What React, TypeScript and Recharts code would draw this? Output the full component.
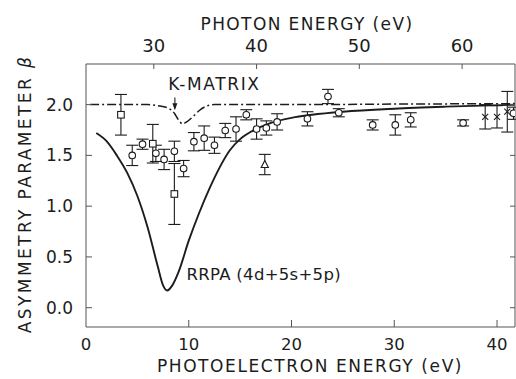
import React from "react";
import {
  ComposedChart,
  Line,
  Scatter,
  ErrorBar,
  XAxis,
  YAxis,
  Label,
  ReferenceDot,
  ReferenceLine,
} from "recharts";

// photoelectron energy ticks (bottom), photon energy ticks (top), beta ticks
const peTicks = [0, 10, 20, 30, 40];
const photonTicks = [30, 40, 50, 60];
const betaTicks = [0, 0.5, 1.0, 1.5, 2.0];

// photon energy = photoelectron energy + threshold
const threshold = 23.4;

// RRPA (4d+5s+5p) curve
const rrpaE = [1.0, 2.0, 3.0, 4.0, 5.0, 6.0, 7.0, 7.5, 7.9, 8.4, 9.0, 10.0, 11.0, 12.0, 13.0, 14.0, 15.0, 16.0, 17.0, 18.0, 20.0, 22.0, 25.0, 30.0, 35.0, 42.0];
const rrpaBeta = [1.72, 1.64, 1.5, 1.33, 1.1, 0.79, 0.4, 0.22, 0.17, 0.22, 0.35, 0.66, 0.93, 1.17, 1.38, 1.55, 1.66, 1.73, 1.78, 1.82, 1.87, 1.9, 1.93, 1.96, 1.98, 2.0];

// K-matrix curve
const kmatE = [0.4, 6.0, 7.0, 8.0, 8.6, 9.0, 9.4, 9.8, 10.4, 11.0, 11.6, 12.5, 20.0, 30.0, 42.0];
const kmatBeta = [2.0, 2.0, 1.99, 1.965, 1.915, 1.85, 1.81, 1.83, 1.88, 1.94, 1.98, 2.0, 2.0, 2.005, 2.01];

// measured points: [E, beta, error]
const circles = [
  [4.5, 1.5, 0.1], [5.5, 1.61, 0.05], [6.8, 1.52, 0.08], [7.6, 1.46, 0.1],
  [8.6, 1.54, 0.1], [9.5, 1.37, 0.08], [10.5, 1.635, 0.09], [11.5, 1.67, 0.12],
  [12.5, 1.6, 0.08], [13.55, 1.745, 0.07], [14.6, 1.76, 0.12], [15.6, 1.9, 0.05],
  [16.6, 1.76, 0.1], [17.55, 1.77, 0.07], [18.6, 1.83, 0.08], [21.55, 1.86, 0.07],
  [23.55, 2.08, 0.07], [24.6, 1.92, 0.04], [27.9, 1.8, 0.05], [30.1, 1.8, 0.1],
  [31.6, 1.85, 0.07], [36.7, 1.82, 0.03], [41.6, 1.915, 0.06],
];
const squares = [[3.4, 1.9, 0.2], [6.5, 1.615, 0.19], [8.6, 1.12, 0.3]];
const triangles = [[17.4, 1.41, 0.1]];
const crosses = [[38.85, 1.88, 0.12], [40.0, 1.88, 0.11], [41.0, 1.93, 0.2]];

const toCurve = (xs: number[], ys: number[]) => xs.map((x, i) => ({ x, y: ys[i] }));
const toPoints = (pts: number[][]) => pts.map(([x, y, e]) => ({ x, y, e }));

const rrpaData = toCurve(rrpaE, rrpaBeta);
const kmatData = toCurve(kmatE, kmatBeta);
// same curve on the photon-energy scale, only to bind the top axis
const rrpaPhoton = toCurve(rrpaE.map((e) => e + threshold), rrpaBeta);

const ink = "#1c1c1c";
const frame = "#555";
const font = "'DejaVu Sans', sans-serif";

const BottomTick = ({ x, y, payload }: any) => (
  <g>
    {payload.value !== 0 && <line x1={x} x2={x} y1={y} y2={y - 7} stroke={frame} />}
    <text x={x} y={y + 23} textAnchor="middle" fontSize={16.5} fontFamily={font} fill={ink}>
      {payload.value}
    </text>
  </g>
);

const TopTick = ({ x, y, payload }: any) => (
  <g>
    <line x1={x} x2={x} y1={y} y2={y + 5} stroke={frame} />
    <text x={x} y={y - 12} textAnchor="middle" fontSize={18} fontFamily={font} fill={ink}>
      {payload.value}
    </text>
  </g>
);

const LeftTick = ({ x, y, payload }: any) => (
  <g>
    <line x1={x} x2={x + 6} y1={y} y2={y} stroke={frame} />
    <text x={x - 13} y={y + 6} textAnchor="end" fontSize={17} fontFamily={font} fill={ink}>
      {payload.value.toFixed(1)}
    </text>
  </g>
);

const RightTick = ({ x, y }: any) => (
  <line x1={x} x2={x - 5} y1={y} y2={y} stroke={frame} />
);

const hollowCircle = (p: any) => (
  <circle cx={p.cx} cy={p.cy} r={3.3} fill="#fff" stroke={ink} strokeWidth={1.1} />
);
const hollowSquare = (p: any) => (
  <rect x={p.cx - 3.3} y={p.cy - 3.3} width={6.6} height={6.6} fill="#fff" stroke={ink} strokeWidth={1.1} />
);
const hollowTriangle = (p: any) => (
  <path d={`M${p.cx},${p.cy - 4} L${p.cx + 3.6},${p.cy + 3} L${p.cx - 3.6},${p.cy + 3} Z`} fill="#fff" stroke={ink} strokeWidth={1.1} />
);
const cross = (p: any) => (
  <path d={`M${p.cx - 3},${p.cy - 3} L${p.cx + 3},${p.cy + 3} M${p.cx + 3},${p.cy - 3} L${p.cx - 3},${p.cy + 3}`} stroke={ink} strokeWidth={1.1} />
);

const textStyle = { fontFamily: font, fill: ink };

export default function App() {
  return (
    <div style={{ position: "absolute", left: 0, top: 0, background: "#fff" }}>
      <ComposedChart width={516} height={379} margin={{ top: 0, right: 0, bottom: 0, left: 0 }}>
        <XAxis
          xAxisId="b"
          dataKey="x"
          type="number"
          domain={[0, 41.75]}
          allowDataOverflow
          ticks={peTicks}
          interval={0}
          height={52}
          tickSize={0}
          tickMargin={0}
          tickLine={false}
          axisLine={{ stroke: frame }}
          tick={<BottomTick />}
        >
          <Label
            content={() => (
              <text x={310} y={372} textAnchor="middle" fontSize={17} letterSpacing={1.6} {...textStyle}>
                PHOTOELECTRON ENERGY (eV)
              </text>
            )}
          />
        </XAxis>
        <XAxis
          xAxisId="t"
          dataKey="x"
          orientation="top"
          type="number"
          domain={[threshold, 41.75 + threshold]}
          allowDataOverflow
          ticks={photonTicks}
          interval={0}
          height={64}
          tickSize={0}
          tickMargin={0}
          tickLine={false}
          axisLine={{ stroke: frame }}
          tick={<TopTick />}
        >
          <Label
            content={() => (
              <text x={307} y={29.5} textAnchor="middle" fontSize={17} letterSpacing={1.4} {...textStyle}>
                PHOTON ENERGY (eV)
              </text>
            )}
          />
        </XAxis>
        <YAxis
          yAxisId="l"
          dataKey="y"
          type="number"
          domain={[-0.19, 2.4]}
          allowDataOverflow
          ticks={betaTicks}
          interval={0}
          width={86}
          tickSize={0}
          tickMargin={0}
          tickLine={false}
          axisLine={{ stroke: frame }}
          tick={<LeftTick />}
        >
          <Label
            content={() => (
              <text
                x={31}
                y={194}
                textAnchor="middle"
                fontSize={17}
                letterSpacing={2.4}
                transform="rotate(-90, 31, 194)"
                {...textStyle}
              >
                ASYMMETRY PARAMETER <tspan fontStyle="italic">β</tspan>
              </text>
            )}
          />
        </YAxis>
        <YAxis
          yAxisId="r"
          dataKey="y"
          orientation="right"
          type="number"
          domain={[-0.19, 2.4]}
          allowDataOverflow
          ticks={betaTicks}
          interval={0}
          width={1}
          tickSize={0}
          tickMargin={0}
          tickLine={false}
          axisLine={{ stroke: frame }}
          tick={<RightTick />}
        />

        <Line
          xAxisId="t"
          yAxisId="r"
          data={rrpaPhoton}
          dataKey="y"
          type="monotone"
          stroke="none"
          dot={false}
          activeDot={false}
          isAnimationActive={false}
        />
        <Line
          xAxisId="b"
          yAxisId="l"
          data={kmatData}
          dataKey="y"
          type="monotone"
          stroke={ink}
          strokeWidth={1.5}
          strokeDasharray="9 3 2 3"
          dot={false}
          activeDot={false}
          isAnimationActive={false}
        />
        <Line
          xAxisId="b"
          yAxisId="l"
          data={rrpaData}
          dataKey="y"
          type="monotone"
          stroke={ink}
          strokeWidth={1.9}
          dot={false}
          activeDot={false}
          isAnimationActive={false}
        />

        <Scatter xAxisId="b" yAxisId="l" data={toPoints(circles)} dataKey="y" shape={hollowCircle} isAnimationActive={false}>
          <ErrorBar dataKey="e" direction="y" width={6} stroke={ink} strokeWidth={1.1} />
        </Scatter>
        <Scatter xAxisId="b" yAxisId="l" data={toPoints(squares)} dataKey="y" shape={hollowSquare} isAnimationActive={false}>
          <ErrorBar dataKey="e" direction="y" width={6} stroke={ink} strokeWidth={1.1} />
        </Scatter>
        <Scatter xAxisId="b" yAxisId="l" data={toPoints(triangles)} dataKey="y" shape={hollowTriangle} isAnimationActive={false}>
          <ErrorBar dataKey="e" direction="y" width={6} stroke={ink} strokeWidth={1.1} />
        </Scatter>
        <Scatter xAxisId="b" yAxisId="l" data={toPoints(crosses)} dataKey="y" shape={cross} isAnimationActive={false}>
          <ErrorBar dataKey="e" direction="y" width={6} stroke={ink} strokeWidth={1.1} />
        </Scatter>

        <ReferenceLine
          xAxisId="b"
          yAxisId="l"
          segment={[{ x: 8.65, y: 2.07 }, { x: 8.65, y: 1.965 }]}
          stroke={ink}
          strokeWidth={1.1}
        />
        <ReferenceDot
          xAxisId="b"
          yAxisId="l"
          x={8.65}
          y={1.945}
          r={0}
          shape={(p: any) => (
            <path d={`M${p.cx},${p.cy} L${p.cx - 2.5},${p.cy - 7} L${p.cx + 2.5},${p.cy - 7} Z`} fill={ink} />
          )}
        />
        <ReferenceDot
          xAxisId="b"
          yAxisId="l"
          x={12.5}
          y={2.145}
          r={0}
          shape={(p: any) => (
            <text x={p.cx} y={p.cy} textAnchor="middle" fontSize={17} letterSpacing={1.6} {...textStyle}>
              K-MATRIX
            </text>
          )}
        />
        <ReferenceDot
          xAxisId="b"
          yAxisId="l"
          x={9.78}
          y={0.273}
          r={0}
          shape={(p: any) => (
            <text x={p.cx} y={p.cy} textAnchor="start" fontSize={16.5} letterSpacing={0.3} {...textStyle}>
              RRPA (4d+5s+5p)
            </text>
          )}
        />
      </ComposedChart>
    </div>
  );
}
